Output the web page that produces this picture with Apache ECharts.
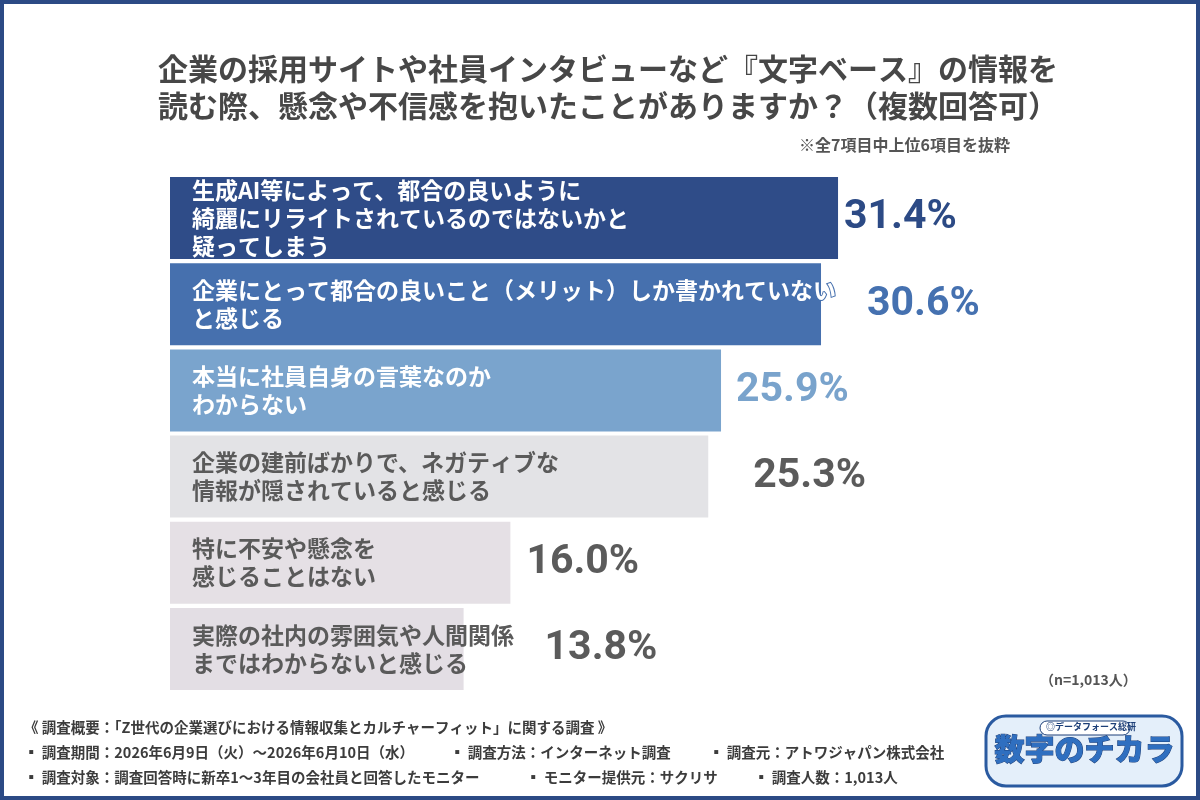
<!DOCTYPE html>
<html>
<head>
<meta charset="utf-8">
<script src="https://cdn.jsdelivr.net/npm/echarts@6/dist/echarts.min.js"></script>
<style>
  html, body { margin: 0; padding: 0; background: #fff; }
  #chart { width: 1200px; height: 800px; }
</style>
</head>
<body>
<div id="chart"></div>
<script>
// 項目（上から順）
const categories = [
  "生成AI等によって、都合の良いように\n綺麗にリライトされているのではないかと\n疑ってしまう",
  "企業にとって都合の良いこと（メリット）しか書かれていない\nと感じる",
  "本当に社員自身の言葉なのか\nわからない",
  "企業の建前ばかりで、ネガティブな\n情報が隠されていると感じる",
  "特に不安や懸念を\n感じることはない",
  "実際の社内の雰囲気や人間関係\nまではわからないと感じる"
];
const values = [31.4, 30.6, 25.9, 25.3, 16.0, 13.8];

const titleLines = [
  "企業の採用サイトや社員インタビューなど『文字ベース』の情報を",
  "読む際、懸念や不信感を抱いたことがありますか？（複数回答可）"
];
const noteText = "※全7項目中上位6項目を抜粋";
const nText = "（n=1,013人）";
const footer = [
  [["《 調査概要：「Z世代の企業選びにおける情報収集とカルチャーフィット」に関する調査 》", 24]],
  [["▪ 調査期間：2026年6月9日（火）～2026年6月10日（水）", 24],
   ["▪ 調査方法：インターネット調査", 450],
   ["▪ 調査元：アトワジャパン株式会社", 709]],
  [["▪ 調査対象：調査回答時に新卒1～3年目の会社員と回答したモニター", 24],
   ["▪ モニター提供元：サクリサ", 526],
   ["▪ 調査人数：1,013人", 754]]
];

// 見た目
const barColors = ["#2f4c88", "#4670ae", "#7aa4cd", "#e3e3e6", "#e5e0e5", "#e3dee4"];
const nameColors = ["#fff", "#fff", "#fff", "#5a5a5a", "#5a5a5a", "#5a5a5a"];
const valueColors = ["#2c4a85", "#4571b0", "#79a3cc", "#5b5b5b", "#5b5b5b", "#5b5b5b"];
const valueGaps = [6, 46, 15, 45, 16, 81];

const jp = '"Noto Sans CJK JP", "Noto Sans", sans-serif';
const numFont = 'Roboto, "Liberation Sans", sans-serif';

const chart = echarts.init(document.getElementById("chart"));

const graphics = [
  {
    type: "rect", shape: { x: 0, y: 0, width: 1200, height: 800 },
    style: { fill: "none", stroke: "#2c4a85", lineWidth: 8 }, z: 100
  },
  {
    type: "text", left: 158, top: 50,
    style: { text: titleLines.join("\n"), font: "bold 30px " + jp, fill: "#474747", lineHeight: 37 }
  },
  {
    type: "text", right: 190, top: 137,
    style: { text: noteText, font: "bold 16px " + jp, fill: "#555", textAlign: "right" }
  },
  {
    type: "text", left: 1040, top: 673,
    style: { text: nText, font: "bold 14px " + jp, fill: "#555" }
  },
  // ロゴ（簡易）
  {
    type: "rect", shape: { x: 986, y: 716, width: 196, height: 70, r: 20 },
    style: { fill: "#e4effa", stroke: "#2a5aa0", lineWidth: 3 }
  },
  {
    type: "text", left: 994, top: 733,
    style: { text: "数字のチカラ", font: "900 30px " + jp, fill: "#2f6fc0", stroke: "#1d3f78", lineWidth: 1 }
  },
  {
    type: "rect", shape: { x: 1040, y: 721, width: 90, height: 14, r: 7 },
    style: { fill: "#fff", stroke: "#1d3f78", lineWidth: 1 }
  },
  {
    type: "text", left: 1046, top: 722,
    style: { text: "◎データフォース総研", font: "bold 9px " + jp, fill: "#1d3f78" }
  }
];

footer.forEach(function (line, i) {
  line.forEach(function (item) {
    graphics.push({
      type: "text", left: item[1], top: 720 + i * 25,
      style: { text: item[0], font: "bold 14.5px " + jp, fill: "#3c3c3c" }
    });
  });
});

chart.setOption({
  animation: false,
  backgroundColor: "#fff",
  grid: { left: 170, right: 179, top: 175, height: 517 },
  xAxis: { type: "value", min: 0, max: 40, show: false },
  yAxis: {
    type: "category", data: categories, inverse: true, show: false
  },
  series: [
    {
      type: "bar",
      barWidth: 82,
      data: values.map(function (v, i) {
        return {
          value: v,
          itemStyle: { color: barColors[i] },
          label: {
            color: nameColors[i],
            textBorderColor: i < 3 ? barColors[i] : "transparent",
            textBorderWidth: i < 3 ? 2 : 0
          }
        };
      }),
      label: {
        show: true,
        position: "insideLeft",
        distance: 22,
        formatter: "{b}",
        fontFamily: jp,
        fontWeight: "bold",
        fontSize: 23,
        lineHeight: 28
      },
      z: 3
    },
    {
      type: "bar",
      barWidth: 82,
      barGap: "-100%",
      data: values.map(function (v, i) {
        return {
          value: v,
          label: { color: valueColors[i], distance: valueGaps[i] }
        };
      }),
      itemStyle: { color: "transparent" },
      label: {
        show: true,
        position: "right",
        formatter: function (p) { return p.value.toFixed(1) + "%"; },
        fontFamily: numFont,
        fontWeight: "bold",
        fontSize: 41
      },
      z: 2
    }
  ],
  graphic: graphics
});
</script>
</body>
</html>
